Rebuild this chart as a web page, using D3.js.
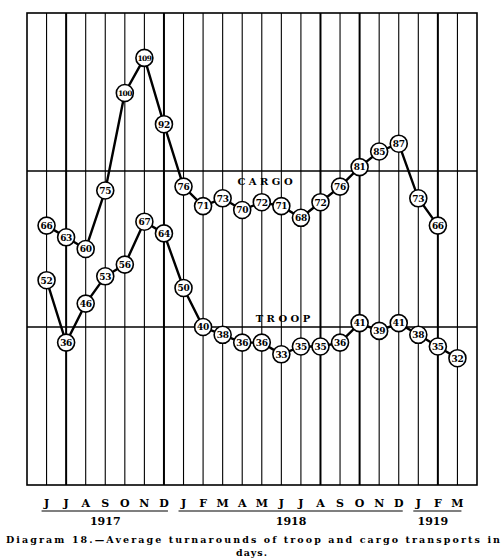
<!DOCTYPE html>
<html><head><meta charset="utf-8">
<script src="https://cdn.jsdelivr.net/npm/d3@7"></script>
<style>body{margin:0;background:#fff}svg{display:block}</style>
</head><body>
<script>
const months = ["J","J","A","S","O","N","D","J","F","M","A","M","J","J","A","S","O","N","D","J","F","M"];
const cargo = [66,63,60,75,100,109,92,76,71,73,70,72,71,68,72,76,81,85,87,73,66];
const troop = [52,36,46,53,56,67,64,50,40,38,36,36,33,35,35,36,41,39,41,38,35,32];
const refValues = [80, 40];
const refLabels = ["C A R G O", "T R O O P"];
const yearLabels = ["1917","1918","1919"];
const yearStart = [0, 7, 19];
const yearEnd = [6, 18, 21];
const caption1 = "Diagram 18.—Average turnarounds of troop and cargo transports in";
const caption2 = "days.";

(function () {
const W = 504, H = 560;
const svg = d3.select("body").append("svg").attr("width", W).attr("height", H);
const x = d3.scaleLinear().domain([-1, 22]).range([27, 477]);
const y = d3.scaleLinear().domain([0, 120]).range([483, 15]);
const frameTop = 13, frameBottom = 485;
const font = "'DejaVu Serif', 'Liberation Serif', serif";

// vertical grid
const thick = new Set([1, 6, 14, 16, 20]);
svg.append("g").selectAll("line").data(months).join("line")
  .attr("x1", (d,i) => x(i)).attr("x2", (d,i) => x(i))
  .attr("y1", frameTop).attr("y2", frameBottom)
  .attr("stroke", "#000")
  .attr("stroke-width", (d,i) => thick.has(i) ? 2 : 1.1);

// frame
svg.append("rect").attr("x", x(-1)).attr("y", frameTop)
  .attr("width", x(22) - x(-1)).attr("height", frameBottom - frameTop)
  .attr("fill", "none").attr("stroke", "#000").attr("stroke-width", 1.6);

// reference lines
svg.append("g").selectAll("line").data(refValues).join("line")
  .attr("x1", x(-1)).attr("x2", x(22))
  .attr("y1", d => y(d)).attr("y2", d => y(d))
  .attr("stroke", "#000").attr("stroke-width", 1.3);

// reference labels
const refX = [265, 283];
const refDy = [14, -5];
svg.append("g").selectAll("text").data(refLabels).join("text")
  .attr("x", (d,i) => refX[i]).attr("y", (d,i) => y(refValues[i]) + refDy[i])
  .attr("text-anchor", "middle")
  .attr("font-family", font).attr("font-weight", "bold").attr("font-size", 10)
  .text(d => d);

const line = d3.line().x((d,i) => x(i)).y(d => y(d));
[cargo, troop].forEach(series => {
  svg.append("path").datum(series).attr("d", line)
    .attr("fill", "none").attr("stroke", "#000").attr("stroke-width", 2.4);
});

[cargo, troop].forEach(series => {
  const g = svg.append("g");
  g.selectAll("circle").data(series).join("circle")
    .attr("cx", (d,i) => x(i)).attr("cy", d => y(d)).attr("r", 8.5)
    .attr("fill", "#fff").attr("stroke", "#000").attr("stroke-width", 1.6);
  g.selectAll("text").data(series).join("text")
    .attr("x", (d,i) => x(i)).attr("y", d => y(d) + 3.3)
    .attr("text-anchor", "middle")
    .attr("font-family", font).attr("font-weight", "bold")
    .attr("font-size", d => d >= 100 ? 7.5 : 9)
    .attr("letter-spacing", d => d >= 100 ? -0.6 : -0.3)
    .text(d => d);
});

// month letters
svg.append("g").selectAll("text").data(months).join("text")
  .attr("x", (d,i) => x(i)).attr("y", 507)
  .attr("text-anchor", "middle")
  .attr("font-family", font).attr("font-weight", "bold").attr("font-size", 11)
  .text(d => d);

// year underlines and labels
svg.append("g").selectAll("line").data(yearLabels).join("line")
  .attr("x1", (d,i) => x(yearStart[i]) - 5).attr("x2", (d,i) => x(yearEnd[i]) + 4)
  .attr("y1", 511).attr("y2", 511)
  .attr("stroke", "#000").attr("stroke-width", 1.2);
svg.append("g").selectAll("text").data(yearLabels).join("text")
  .attr("x", (d,i) => (x(yearStart[i]) + x(yearEnd[i])) / 2 + (i === 2 ? -5 : 0))
  .attr("y", 525)
  .attr("text-anchor", "middle")
  .attr("font-family", font).attr("font-weight", "bold").attr("font-size", 11)
  .text(d => d);

// caption
svg.append("text").attr("x", 6).attr("y", 543)
  .attr("textLength", 494).attr("lengthAdjust", "spacing")
  .attr("font-family", font).attr("font-weight", "bold").attr("font-size", 9.5)
  .text(caption1);
svg.append("text").attr("x", 252).attr("y", 556)
  .attr("text-anchor", "middle")
  .attr("font-family", font).attr("font-weight", "bold").attr("font-size", 9.5)
  .attr("letter-spacing", 1)
  .text(caption2);
})();
</script>
</body></html>
